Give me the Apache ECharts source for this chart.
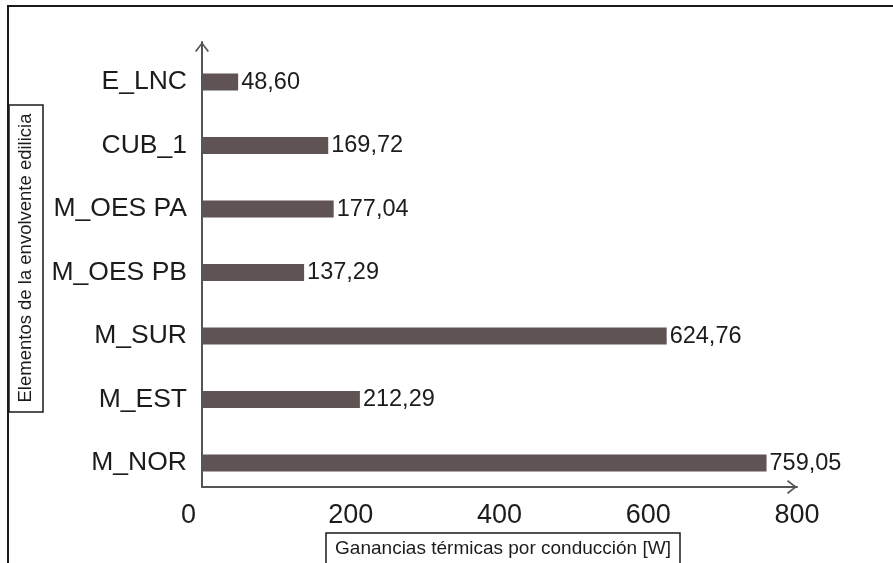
<!DOCTYPE html>
<html>
<head>
<meta charset="utf-8">
<script src="https://cdn.jsdelivr.net/npm/echarts@6/dist/echarts.min.js"></script>
<style>
html,body{margin:0;padding:0;background:#fff;}
#chart{width:893px;height:563px;}
</style>
</head>
<body>
<div id="chart"></div>
<script>
// Data (bottom to top)
const categories = ['M_NOR', 'M_EST', 'M_SUR', 'M_OES PB', 'M_OES PA', 'CUB_1', 'E_LNC'];
const values = [759.05, 212.29, 624.76, 137.29, 177.04, 169.72, 48.60];
const xTicks = [0, 200, 400, 600, 800];
const yTitle = 'Elementos de la envolvente edilicia';
const xTitle = 'Ganancias térmicas por conducción [W]';

const FONT = '"Liberation Sans", Arial, Helvetica, sans-serif';
const BAR = '#5f5453';
const AXIS = '#555555';
const TEXT = '#1c1c1c';
const chevron = 'path://M0,9 L7,0 L14,9 L12.6,10 L7,2.6 L1.4,10 Z';

const chart = echarts.init(document.getElementById('chart'), null, {renderer: 'canvas'});
const seriesData = values.map((v, i) => [v, i]);

chart.setOption({
  backgroundColor: '#ffffff',
  animation: false,
  grid: {left: 202, right: 96, top: 42, bottom: 76, containLabel: false},
  xAxis: {
    type: 'value', min: xTicks[0], max: xTicks[xTicks.length - 1], interval: 200,
    axisLine: {show: true, onZero: false, lineStyle: {color: AXIS, width: 2},
      symbol: ['none', chevron], symbolSize: [14, 10], symbolOffset: [0, -5]},
    axisTick: {show: false},
    splitLine: {show: false},
    axisLabel: {
      margin: 15, color: TEXT, fontSize: 27, fontFamily: FONT,
      formatter: v => v === 0 ? '{z|0}' : String(v),
      rich: {z: {fontSize: 27, fontFamily: FONT, color: TEXT, padding: [0, 27, 0, 0]}}
    }
  },
  yAxis: {
    type: 'value', min: -0.378, max: 6.63,
    axisLine: {show: true, onZero: false, lineStyle: {color: AXIS, width: 2},
      symbol: ['none', chevron], symbolSize: [14, 10], symbolOffset: [0, -5]},
    axisTick: {show: false},
    splitLine: {show: false},
    axisLabel: {
      customValues: categories.map((c, i) => i),
      margin: 15, color: TEXT, fontSize: 26.5, fontFamily: FONT,
      formatter: v => categories[Math.round(v)] ?? ''
    }
  },
  graphic: [
    {type: 'rect', shape: {x: 8, y: 6, width: 950, height: 650}, style: {fill: 'none', stroke: '#1a1a1a', lineWidth: 2}, silent: true},
    {type: 'rect', shape: {x: 9, y: 105, width: 34, height: 307}, style: {fill: '#fff', stroke: '#1a1a1a', lineWidth: 1.5}, silent: true},
    {type: 'text', x: 26, y: 258, rotation: Math.PI / 2,
      style: {text: yTitle, fontSize: 18.5, fontFamily: FONT, fill: TEXT, align: 'center', verticalAlign: 'middle'}, silent: true},
    {type: 'rect', shape: {x: 326, y: 533, width: 354, height: 60}, style: {fill: '#fff', stroke: '#1a1a1a', lineWidth: 1.5}, silent: true},
    {type: 'text', x: 503, y: 549,
      style: {text: xTitle, fontSize: 19, fontFamily: FONT, fill: TEXT, align: 'center', verticalAlign: 'middle'}, silent: true}
  ],
  series: [{
    type: 'custom',
    encode: {x: 0, y: 1},
    data: seriesData,
    clip: false,
    renderItem: function (params, api) {
      const v = api.value(0), i = api.value(1);
      const start = api.coord([0, i]);
      const end = api.coord([v, i]);
      const h = 17;
      return {
        type: 'group',
        children: [
          {type: 'rect', shape: {x: start[0] + 1, y: start[1] - h / 2, width: end[0] - start[0] - 1, height: h}, style: {fill: BAR}},
          {type: 'text', style: {text: v.toFixed(2).replace('.', ','), x: end[0] + 3, y: end[1] + 0.5,
            fontSize: 23.5, fontFamily: FONT, fill: TEXT, align: 'left', verticalAlign: 'middle'}}
        ]
      };
    }
  }]
});
</script>
</body>
</html>
